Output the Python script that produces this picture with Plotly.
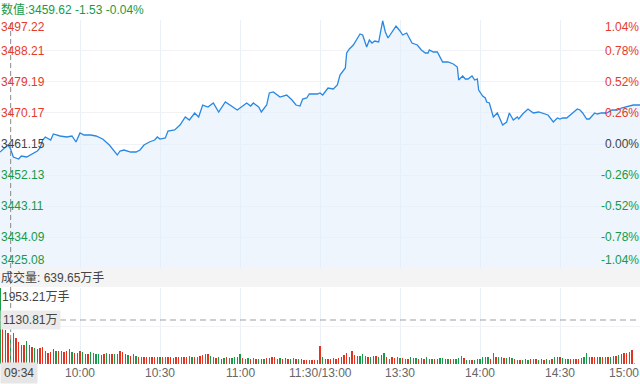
import plotly.graph_objects as go

# ---------------- data ----------------
pre_close = 3461.15
price_ticks = [3497.22, 3488.21, 3479.19, 3470.17, 3461.15, 3452.13, 3443.11, 3434.09, 3425.08]
pct_ticks = ["1.04%", "0.78%", "0.52%", "0.26%", "0.00%", "-0.26%", "-0.52%", "-0.78%", "-1.04%"]
time_ticks = [30, 60, 90, 120, 150, 180, 210, 240]
time_labels = ["10:00", "10:30", "11:00", "11:30/13:00", "13:30", "14:00", "14:30", "15:00"]

price_min = [0, 1.5, 3, 4, 5, 7, 8, 10, 12, 14, 15, 16, 17, 19, 20, 22.5, 25, 27, 28.5, 30,
             31.5, 34, 36, 38.5, 41, 44, 45, 46.5, 49, 51, 52.5, 54, 56, 58, 59, 60,
             62, 63, 65.5, 67.5, 69.5, 71, 73, 74.5, 76, 78, 80, 82, 84.5, 87, 89, 92.5,
             94, 95, 97, 98, 100, 101, 102.5, 105, 107.5, 109.5, 111, 112.5, 113.5, 115,
             116, 119, 120, 121, 123, 125, 126.5, 127.5, 129.5, 130, 131, 132.5, 134, 135,
             136, 137.5, 138.5, 139.5, 140.5, 142, 143.5, 144.5, 145.5, 147, 148.5, 150,
             151, 152.5, 154.5, 156.5, 158, 159.5, 160.5, 161, 162.5, 164, 165, 166, 168,
             170, 171.5, 172, 173.5, 174.5, 175.5, 177, 178, 179, 179.5, 180, 181, 182,
             182.5, 183.5, 185, 186.5, 187.5, 188.5, 190, 191, 192.5, 194, 194.5, 196, 198,
             200, 202, 203.5, 205.5, 207.5, 209, 210, 211, 212.5, 214.5, 216.5, 217.5,
             218.5, 220, 221, 223, 224, 225.5, 227.5, 229.5, 231.5, 233, 235, 237.5, 240]
price_val = [3458.82, 3459.99, 3460.86, 3459.62, 3457.37, 3456.79, 3457.66, 3457.37, 3458.24,
             3459.11, 3459.99, 3462.31, 3463.19, 3462.31, 3464.06, 3463.48, 3463.19, 3463.48,
             3461.73, 3464.35, 3463.77, 3463.77, 3463.48, 3462.60, 3460.86, 3457.95, 3459.11,
             3459.40, 3458.82, 3458.82, 3459.40, 3460.86, 3461.73, 3462.31, 3463.19, 3462.60,
             3462.90, 3464.93, 3465.22, 3466.68, 3469.00, 3468.13, 3470.17, 3469.00, 3472.49,
             3471.91, 3473.08, 3470.46, 3473.37, 3472.20, 3471.04, 3473.08, 3472.20, 3473.08,
             3471.91, 3470.46, 3472.49, 3475.99, 3476.28, 3474.82, 3475.40, 3473.95, 3472.49,
             3472.20, 3474.24, 3474.53, 3475.69, 3475.69, 3475.99, 3475.40, 3477.44, 3477.15,
             3478.31, 3481.22, 3483.26, 3487.62, 3488.78, 3489.95, 3491.98, 3493.15, 3492.86,
             3489.37, 3491.40, 3490.53, 3491.11, 3490.82, 3497.00, 3493.73, 3491.98, 3493.73,
             3495.47, 3494.02, 3492.86, 3493.44, 3490.53, 3489.95, 3488.49, 3487.62, 3487.62,
             3488.49, 3487.91, 3487.91, 3486.46, 3485.00, 3485.00, 3484.42, 3483.55, 3479.77,
             3480.93, 3480.06, 3480.06, 3480.93, 3479.77, 3480.06, 3476.86, 3476.28, 3475.11,
             3474.53, 3473.37, 3473.08, 3469.00, 3470.17, 3468.13, 3466.68, 3467.55, 3470.17,
             3468.13, 3469.00, 3468.42, 3469.88, 3471.33, 3470.17, 3470.46, 3470.17, 3469.59,
             3467.55, 3468.71, 3468.42, 3468.71, 3468.71, 3470.17, 3471.33, 3471.04, 3470.17,
             3468.42, 3468.42, 3470.17, 3469.88, 3470.17, 3470.17, 3471.04, 3471.04, 3471.62,
             3471.91, 3472.49, 3472.49]

volume = [1953.21, 917, 874, 805, 639.65, 805, 660, 574, 488, 488,
          591, 488, 428, 403, 377, 403, 428, 343, 291, 317,
          377, 343, 343, 334, 317, 343, 377, 317, 291, 291,
          343, 317, 248, 257, 317, 274, 257, 257, 231, 248,
          291, 248, 257, 248, 257, 343, 300, 257, 231, 214,
          257, 214, 188, 188, 188, 188, 171, 188, 171, 171,
          171, 188, 188, 171, 171, 146, 171, 171, 171, 188,
          171, 214, 188, 188, 171, 214, 231, 257, 248, 214,
          171, 146, 171,
          128, 146, 171, 146, 163, 171, 188, 248, 146, 128,
          146, 128, 146, 128, 137, 128, 137, 146, 163, 171,
          188, 128, 146, 128, 146, 120, 128, 146, 120, 120,
          120, 103, 103, 103, 103, 94, 94, 463, 171, 128,
          128, 128, 146, 128, 163, 188, 231, 291, 188, 334,
          231, 206, 214, 248, 206, 188, 188, 214, 206, 171,
          231, 274, 171, 128, 171, 146, 171, 163, 146, 128,
          128, 171, 146, 146, 128, 146, 128, 171, 128, 128,
          128, 128,
          146, 146, 128, 128, 128, 128, 128, 146, 197, 146,
          103, 103, 103, 103, 128, 128, 188, 171, 171, 128,
          274, 188, 171, 171, 146, 146, 171, 146, 128, 103,
          103, 103, 120, 103, 128, 120, 120, 103, 128, 103,
          120, 103, 128, 188, 171, 171, 146, 128, 128, 128,
          128, 128, 128, 146, 188, 274, 171, 171, 171, 171,
          171, 188, 171, 188, 188, 206, 206, 231, 248, 274,
          291, 317, 360, 34, 0, 0]

direction = list(
    "grrrggrrrr" "grrgrrrgrr" "rgrgrrrgrr" "rgrrggggrr" "ggrgrrrrgr"
    "ggrgrrgrrr" "grgrrrrrgr" "rggrgrrgrg" "grg"
    "rgrgggrgrr" "grgrgrgrrr" "rggrrrggrg" "rrrrrrrrgr" "rrrrrrrrrr"
    "rrgggrgrrg" "rgrgrrggrg" "rgggrgrgrg" "rg"
    "ggrgrrgggr" "grrgrggggr" "grggrgrgrg" "rgrgrgrgrr" "ggrgrrgrgr"
    "rrrgggrrrr" "grgrgrrgrr" "rrrorr"
)
minutes = list(range(241))

# ---------------- styles ----------------
RED = "#e53b2b"
GREEN = "#179a48"
GRAY_TXT = "#444444"
FONT = "Liberation Sans, Arial, Noto Sans CJK SC, sans-serif"
H = 384.0


def py(px):
    return 1 - px / H


bar_colors = [{"r": "#e3321f", "g": "#1a9b4b", "o": "#f28a5c"}[d] for d in direction]

fig = go.Figure()

fig.add_trace(go.Scatter(
    x=price_min, y=price_val, mode="lines",
    line=dict(color="#2a88e3", width=1.3),
    fill="tozeroy", fillcolor="rgba(226,238,252,0.6)",
    xaxis="x", yaxis="y", hoverinfo="skip", showlegend=False))

fig.add_trace(go.Bar(
    x=minutes, y=volume, marker=dict(color=bar_colors, line=dict(width=0)),
    width=0.55, xaxis="x2", yaxis="y2", hoverinfo="skip", showlegend=False))

common_x = dict(range=[0, 240], showticklabels=False, zeroline=False, showline=False,
                tickvals=time_ticks[:-1], showgrid=True, gridcolor="#e8f0f8", gridwidth=1,
                fixedrange=True)
fig.update_layout(
    width=640, height=384, autosize=False,
    margin=dict(l=0, r=0, t=0, b=0),
    paper_bgcolor="white", plot_bgcolor="white",
    font=dict(family=FONT, size=12, color=GRAY_TXT),
    xaxis=dict(domain=[0, 1], anchor="y", **common_x),
    xaxis2=dict(domain=[0, 1], anchor="y2", **common_x),
    yaxis=dict(domain=[py(268), py(20)], range=[price_ticks[-1], price_ticks[0]],
               tickvals=price_ticks, showticklabels=False, showgrid=True,
               gridcolor="#f0f2f5", zeroline=False, fixedrange=True),
    yaxis2=dict(domain=[py(364), py(288)], range=[0, max(volume)],
                tickvals=[0, max(volume) / 2, max(volume)], showticklabels=False,
                showgrid=True, gridcolor="#f0f2f5", zeroline=False, fixedrange=True),
    bargap=0,
)

shapes = []
# grey band for volume title
shapes.append(dict(type="rect", xref="paper", yref="paper", x0=0, x1=1,
                   y0=py(287), y1=py(268), fillcolor="#f4f4f4", line=dict(width=0),
                   layer="above"))
# crosshair
shapes.append(dict(type="line", xref="x", yref="paper", x0=4, x1=4,
                   y0=py(364), y1=py(20), line=dict(color="#8a8a8a", width=1, dash="5px,3px"),
                   layer="above"))
shapes.append(dict(type="line", xref="x2", yref="y2", x0=0, x1=240,
                   y0=1130.81, y1=1130.81,
                   line=dict(color="#a0a0a0", width=1.2, dash="6px,4px"), layer="above"))
fig.update_layout(shapes=shapes)

ann = []
n = len(price_ticks)
for i, (p, pc) in enumerate(zip(price_ticks, pct_ticks)):
    if p > pre_close:
        col = RED
    elif p < pre_close:
        col = GREEN
    else:
        col = GRAY_TXT
    if i == 0:
        ya, ys = "top", 1
    elif i == n - 1:
        ya, ys = "bottom", 0
    else:
        ya, ys = "middle", 0
    ann.append(dict(xref="paper", yref="y", x=0, y=p, xanchor="left", yanchor=ya, yshift=ys,
                    text=f"{p:.2f}", showarrow=False, font=dict(color=col, size=12),
                    borderpad=0))
    ann.append(dict(xref="paper", yref="y", x=1, y=p, xanchor="right", yanchor=ya, yshift=ys,
                    text=pc, showarrow=False, font=dict(color=col, size=12), borderpad=0))

# header
ann.append(dict(xref="paper", yref="paper", x=0, y=py(9), xanchor="left", yanchor="middle",
                text="数值:3459.62 -1.53 -0.04%", showarrow=False,
                font=dict(color=GREEN, size=12), borderpad=0))
# volume title
ann.append(dict(xref="paper", yref="paper", x=0, y=py(277), xanchor="left", yanchor="middle",
                text="成交量: 639.65万手", showarrow=False,
                font=dict(color=GRAY_TXT, size=12), borderpad=0))
ann.append(dict(xref="paper", yref="paper", x=0, y=py(297), xanchor="left", yanchor="middle",
                text="1953.21万手", showarrow=False, xshift=1,
                font=dict(color=GRAY_TXT, size=12), borderpad=0))
# crosshair labels
ann.append(dict(xref="paper", yref="y2", x=0, y=1130.81, xanchor="left", yanchor="middle",
                text="1130.81万", showarrow=False, bgcolor="#ebebeb",
                font=dict(color=GRAY_TXT, size=12), borderpad=2))
ann.append(dict(xref="paper", yref="paper", x=0, y=py(373), xanchor="left", yanchor="middle",
                text="09:34", showarrow=False, bgcolor="#e6e6e6",
                font=dict(color=GRAY_TXT, size=12), borderpad=3))
# time labels
for t, lab in zip(time_ticks, time_labels):
    ann.append(dict(xref="x2", yref="paper", x=t, y=py(373),
                    xanchor="right" if t == 240 else "center", yanchor="middle",
                    text=lab, showarrow=False, font=dict(color="#666666", size=12),
                    borderpad=0))
fig.update_layout(annotations=ann)

fig.write_html("out.html", config={"displayModeBar": False, "staticPlot": True},
               post_script="document.body.style.margin='0';document.body.style.overflow='hidden';")
